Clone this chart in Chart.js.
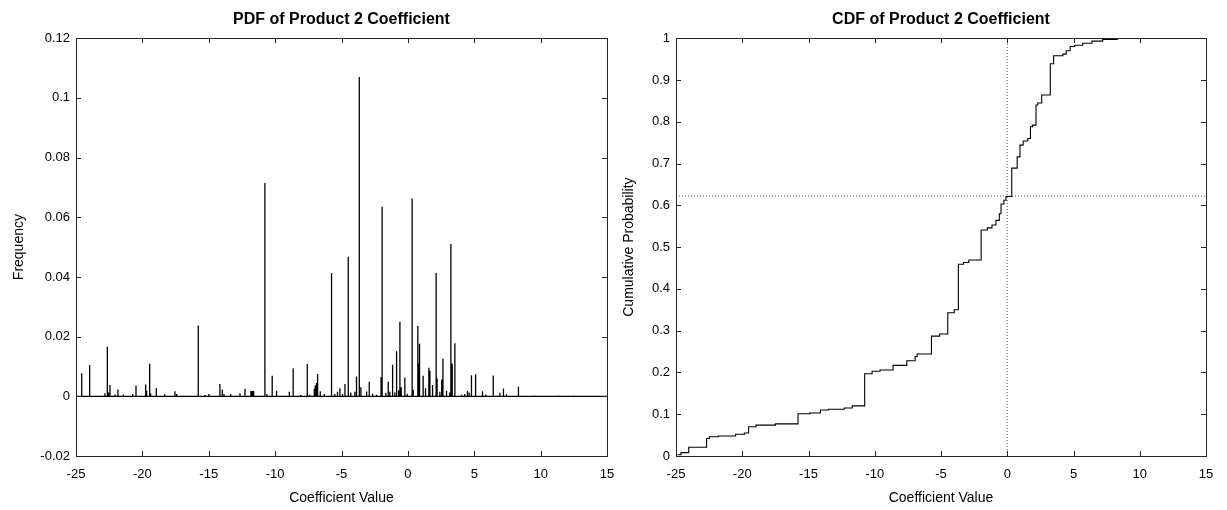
<!DOCTYPE html>
<html>
<head>
<meta charset="utf-8">
<script src="https://cdn.jsdelivr.net/npm/chart.js@4.4.0/dist/chart.umd.min.js"></script>
<style>
body { margin: 0; background: #fff; }
#wrap { position: relative; width: 1227px; height: 510px; }
canvas { position: absolute; top: 0; }
</style>
</head>
<body>
<div id="wrap">
<canvas id="pdfChart" width="630" height="510" style="left:0"></canvas>
<canvas id="cdfChart" width="614" height="510" style="left:613px"></canvas>
</div>
<script>
// values
const pdfX = [-24.57, -23.97, -22.82, -22.64, -22.55, -22.44, -22.06, -21.84, -21.44, -20.73,
  -20.48, -19.75, -19.68, -19.45, -19.38, -18.95, -18.32, -17.55, -17.42, -16.74,
  -15.79, -15.29, -14.99, -14.16, -13.98, -13.85, -13.35, -12.65, -12.27, -11.82,
  -11.72, -11.62, -10.77, -10.62, -10.22, -9.89, -8.93, -8.64, -8.08, -7.58,
  -7.40, -7.05, -6.98, -6.88, -6.80, -6.60, -6.30, -5.75, -5.50, -5.30,
  -5.12, -4.92, -4.74, -4.49, -4.30, -3.99, -3.87, -3.66, -3.54, -3.11,
  -2.91, -2.66, -2.36, -2.02, -1.94, -1.66, -1.48, -1.36, -1.15, -0.98,
  -0.85, -0.70, -0.60, -0.50, -0.23, -0.05, 0.32, 0.40, 0.75, 0.82,
  0.88, 1.15, 1.33, 1.58, 1.66, 1.86, 2.13, 2.20, 2.41, 2.55,
  2.64, 2.91, 3.16, 3.24, 3.34, 3.54, 4.04, 4.29, 4.49, 4.62,
  4.79, 5.10, 5.62, 5.87, 6.43, 6.93, 7.20, 7.43, 8.33, 9.54,
  11.32, 12.50];
const pdfY = [0.0077, 0.0105, 0.0010, 0.0166, 0.0013, 0.0038, 0.0006, 0.0023, 0.0006, 0.0008,
  0.0036, 0.0040, 0.0019, 0.0109, 0.0010, 0.0028, 0.0007, 0.0017, 0.0008, 0.0002,
  0.0237, 0.0004, 0.0008, 0.0041, 0.0023, 0.0008, 0.0008, 0.0010, 0.0025, 0.0018,
  0.0018, 0.0018, 0.0715, 0.0008, 0.0069, 0.0019, 0.0015, 0.0094, 0.0004, 0.0108,
  0.0005, 0.0025, 0.0036, 0.0045, 0.0075, 0.0017, 0.0008, 0.0413, 0.0008, 0.0015,
  0.0027, 0.0008, 0.0041, 0.0468, 0.0013, 0.0015, 0.0066, 0.1070, 0.0030, 0.0016,
  0.0049, 0.0009, 0.0005, 0.0064, 0.0635, 0.0012, 0.0049, 0.0015, 0.0106, 0.0013,
  0.0151, 0.0020, 0.0250, 0.0030, 0.0063, 0.0009, 0.0663, 0.0022, 0.0236, 0.0110,
  0.0176, 0.0069, 0.0027, 0.0096, 0.0086, 0.0038, 0.0413, 0.0060, 0.0015, 0.0056,
  0.0126, 0.0019, 0.0013, 0.0510, 0.0110, 0.0178, 0.0005, 0.0008, 0.0018, 0.0013,
  0.0071, 0.0074, 0.0017, 0.0006, 0.0070, 0.0012, 0.0026, 0.0007, 0.0032, 0.0003,
  0.0003, 0.0003];

const cdfX = [-24.9, -24.62, -24.04, -22.69, -22.48, -21.8, -20.5, -19.84, -19.52, -18.96,
  -17.5, -15.79, -14.9, -14.1, -13.5, -12.3, -11.7, -10.76, -10.2, -9.6,
  -8.62, -7.58, -6.95, -6.8, -5.72, -5.1, -4.49, -4.0, -3.69, -3.3,
  -2.9, -1.97, -1.5, -1.15, -0.85, -0.6, -0.47, -0.25, -0.1, 0.34,
  0.75, 0.96, 1.2, 1.55, 1.75, 1.9, 2.17, 2.3, 2.6, 3.25,
  3.5, 4.2, 4.45, 4.75, 5.1, 5.7, 6.4, 7.2, 8.3, 9.5, 12.5];
const cdfY = [0.003, 0.008, 0.021, 0.042, 0.046, 0.048, 0.052, 0.055, 0.070, 0.074,
  0.077, 0.101, 0.103, 0.110, 0.112, 0.115, 0.120, 0.197, 0.203, 0.206,
  0.217, 0.228, 0.238, 0.244, 0.287, 0.292, 0.343, 0.350, 0.459, 0.463,
  0.469, 0.541, 0.546, 0.553, 0.564, 0.580, 0.603, 0.612, 0.621, 0.689,
  0.716, 0.744, 0.754, 0.760, 0.788, 0.792, 0.840, 0.845, 0.864, 0.939,
  0.958, 0.962, 0.970, 0.980, 0.983, 0.988, 0.993, 0.997, 0.9995, 1.0, 1.0];

const markX = 0;
const markP = 0.622;
const xRange = [-25, 15];

const FONT = "'Liberation Sans', Arial, Helvetica, sans-serif";

// box around the plot with inward ticks on all four sides
const boxTicks = {
  id: 'boxTicks',
  afterDraw(chart) {
    const { ctx, chartArea: a, scales: { x, y } } = chart;
    ctx.save();
    ctx.strokeStyle = '#262626';
    ctx.lineWidth = 1;
    ctx.strokeRect(Math.round(a.left) + 0.5, Math.round(a.top) + 0.5,
      Math.round(a.right - a.left), Math.round(a.bottom - a.top));
    ctx.beginPath();
    x.ticks.forEach(t => {
      const px = Math.round(x.getPixelForValue(t.value)) + 0.5;
      ctx.moveTo(px, a.bottom); ctx.lineTo(px, a.bottom - 5);
      ctx.moveTo(px, a.top); ctx.lineTo(px, a.top + 5);
    });
    y.ticks.forEach(t => {
      const py = Math.round(y.getPixelForValue(t.value)) + 0.5;
      ctx.moveTo(a.left, py); ctx.lineTo(a.left + 5, py);
      ctx.moveTo(a.right, py); ctx.lineTo(a.right - 5, py);
    });
    ctx.stroke();
    ctx.restore();
  }
};

function fmt(v) { return String(+v.toFixed(2)); }

function makeOptions(title, yTitle, yMin, yMax, yStep, yWidth, rightPad, yTitlePad) {
  return {
    responsive: false,
    animation: false,
    layout: { padding: { left: 0, right: rightPad, top: 0, bottom: 0 } },
    plugins: {
      legend: { display: false },
      tooltip: { enabled: false },
      title: {
        display: true, text: title, fullSize: false, color: '#000',
        font: { family: FONT, size: 16, weight: 'bold', lineHeight: 1.2 },
        padding: { top: 10, bottom: 9 }
      }
    },
    scales: {
      x: {
        type: 'linear', min: xRange[0], max: xRange[1],
        grid: { display: false, drawTicks: false },
        border: { display: false },
        ticks: { stepSize: 5, color: '#000', padding: 11, maxRotation: 0,
          font: { family: FONT, size: 13 }, callback: fmt },
        title: { display: true, text: 'Coefficient Value', color: '#000',
          font: { family: FONT, size: 14 }, padding: { top: 0, bottom: 3 } },
        afterFit(s) { s.height = 54; s.paddingLeft = 0; s.paddingRight = 0; }
      },
      y: {
        min: yMin, max: yMax,
        grid: { display: false, drawTicks: false },
        border: { display: false },
        ticks: { stepSize: yStep, color: '#000', padding: 6,
          font: { family: FONT, size: 13 }, callback: fmt },
        title: { display: true, text: yTitle, color: '#000',
          font: { family: FONT, size: 14 }, padding: { top: yTitlePad, bottom: 0 } },
        afterFit(s) { s.width = yWidth; }
      }
    }
  };
}

// PDF: a vertical stroke for every spike, joined along the zero line
const pdfPoints = [{ x: xRange[0], y: 0 }];
pdfX.forEach((v, i) => {
  pdfPoints.push({ x: v, y: 0 }, { x: v, y: pdfY[i] }, { x: v, y: 0 });
});
pdfPoints.push({ x: xRange[1], y: 0 });

new Chart(document.getElementById('pdfChart'), {
  type: 'scatter',
  data: {
    datasets: [{
      data: pdfPoints, showLine: true, borderColor: '#000', borderWidth: 1.3,
      pointRadius: 0, tension: 0
    }]
  },
  options: makeOptions('PDF of Product 2 Coefficient', 'Frequency', -0.02, 0.12, 0.02, 76, 23, 11),
  plugins: [boxTicks]
});

const cdfPoints = cdfX.map((v, i) => ({ x: v, y: cdfY[i] }));

new Chart(document.getElementById('cdfChart'), {
  type: 'scatter',
  data: {
    datasets: [
      { data: cdfPoints, showLine: true, stepped: true, borderColor: '#000',
        borderWidth: 1.1, pointRadius: 0 },
      { data: [{ x: xRange[0], y: markP }, { x: xRange[1], y: markP }], showLine: true,
        borderColor: '#555', borderWidth: 1, borderDash: [1, 2], pointRadius: 0 },
      { data: [{ x: markX, y: 0 }, { x: markX, y: 1 }], showLine: true,
        borderColor: '#555', borderWidth: 1, borderDash: [1, 2], pointRadius: 0 }
    ]
  },
  options: makeOptions('CDF of Product 2 Coefficient', 'Cumulative Probability', 0, 1, 0.1, 63, 21, 8),
  plugins: [boxTicks]
});
</script>
</body>
</html>
